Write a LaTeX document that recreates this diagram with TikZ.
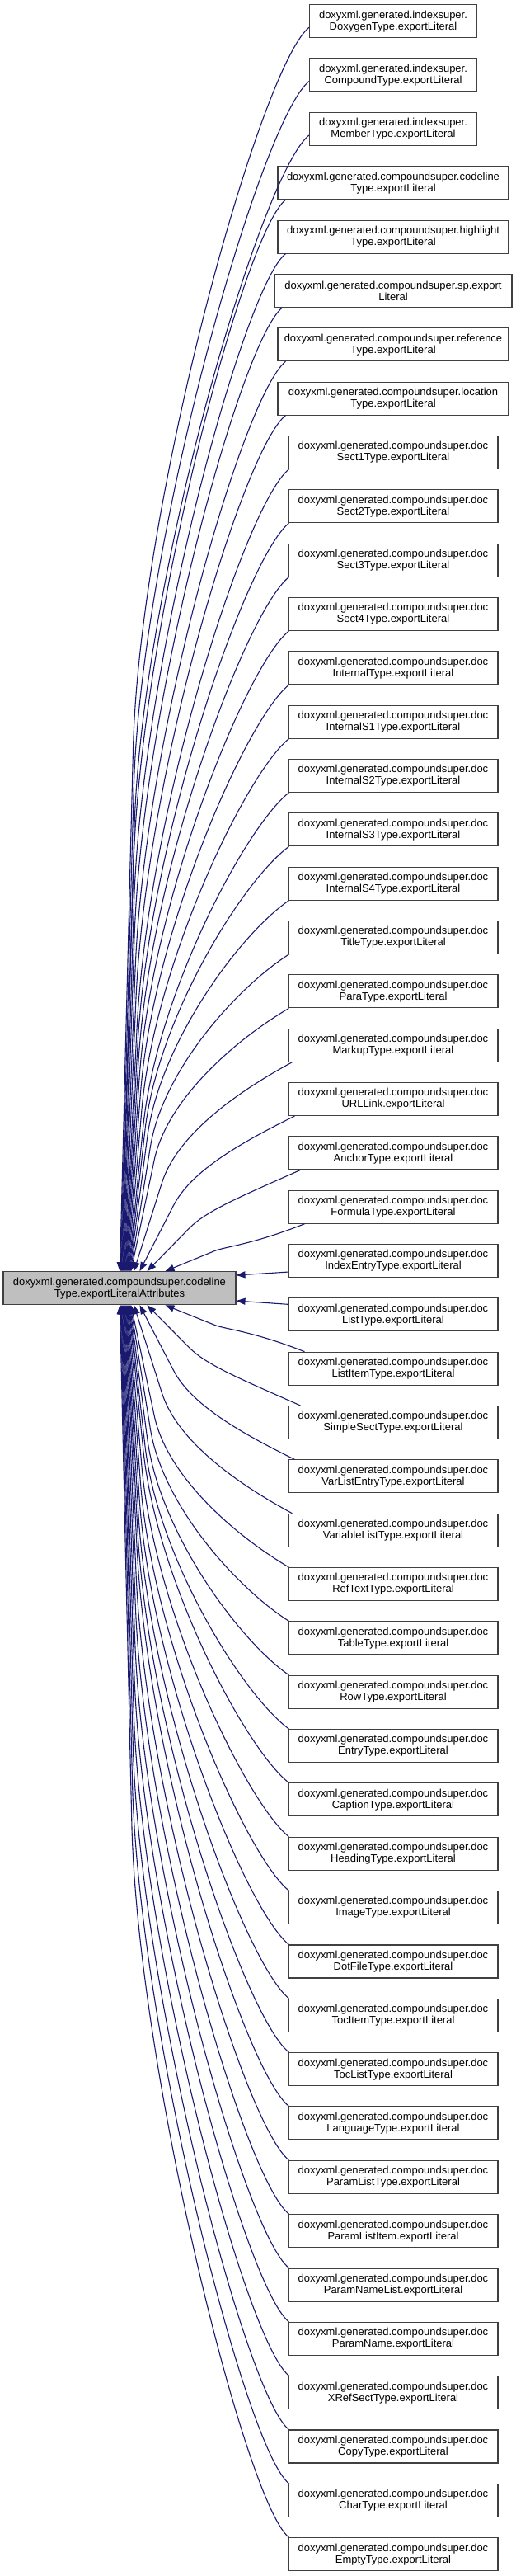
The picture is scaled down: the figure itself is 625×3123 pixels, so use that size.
\documentclass[tikz,border=0pt]{standalone}
\usepackage{fontspec}
\setmainfont{Liberation Sans}
\usetikzlibrary{arrows.meta,calc}
\definecolor{edgecol}{HTML}{191970}
\definecolor{boxline}{HTML}{404040}
\definecolor{boxfill}{HTML}{BFBFBF}
\tikzset{
  rnode/.style={draw=boxline, line width=1.1pt, fill=white, minimum height=40pt, inner sep=0pt, align=center},
  lnode/.style={rnode, fill=boxfill},
  edgeline/.style={draw=edgecol, line width=1.1pt, -{Triangle[length=11pt,width=8pt]}},
}
% parameters of one connector, from its rank m (0 = farthest) and its vertical span
\newcommand{\edgeparams}[3]{% #1 = m, #2 = start x, #3 = vertical span
  \pgfmathsetmacro\Ex{#1<19 ? 146+0.75*#1 : (#1==19 ? 163 : (#1==20 ? 170 : (#1==21 ? 179 : 201)))}
  \pgfmathsetmacro\Dv{#3}
  \pgfmathsetmacro\Dh{#2-\Ex}
  \pgfmathsetmacro\Fr{min(1,\Dv/600)}
  \pgfmathsetmacro\Wt{0.07+0.38*exp(-\Dv/200)}
  \pgfmathsetmacro\Rr{\Wt*\Dh}
  \pgfmathsetmacro\Hf{#1<=14 ? 0.58+0.12*min(1,#1/8) : max(0.58,0.7-0.03*(#1-14))}
  \pgfmathsetmacro\Hh{\Hf*\Dv}
  \pgfmathsetmacro\Rest{\Dv-\Hh}
  \pgfmathsetmacro\Len{100*sqrt((\Rr/100)^2+(\Rest/100)^2)}
  \pgfmathsetmacro\Nu{(0.34+0.06*min(1,#1/8))*\Hh}
  \pgfmathsetmacro\Cx{\Rr/\Len*\Nu}
  \pgfmathsetmacro\Cy{\Rest/\Len*\Nu}
  \pgfmathsetmacro\Sl{0.35+0.45*\Fr}
  \pgfmathsetmacro\Lam{min((0.26+0.2*(1-\Fr))*\Dh,0.75*\Hh/\Sl)}
  \pgfmathsetmacro\Lamy{\Sl*\Lam}
}
\begin{document}
\begin{tikzpicture}[x=1pt,y=-1pt,font=\fontsize{13}{14}\selectfont]
\useasboundingbox (0,0) rectangle (625,3123);
% left node
\node[lnode, minimum width=282pt] (L) at (145,1561.7) {doxyxml.generated.compoundsuper.codeline\\Type.exportLiteralAttributes};
% right nodes
\foreach \i/\w/\t in {
  0/203/{doxyxml.generated.indexsuper.\\DoxygenType.exportLiteral},
  1/203/{doxyxml.generated.indexsuper.\\CompoundType.exportLiteral},
  2/203/{doxyxml.generated.indexsuper.\\MemberType.exportLiteral},
  3/280/{doxyxml.generated.compoundsuper.codeline\\Type.exportLiteral},
  4/280/{doxyxml.generated.compoundsuper.highlight\\Type.exportLiteral},
  5/288/{doxyxml.generated.compoundsuper.sp.export\\Literal},
  6/280/{doxyxml.generated.compoundsuper.reference\\Type.exportLiteral},
  7/280/{doxyxml.generated.compoundsuper.location\\Type.exportLiteral}} {
  \node[rnode, minimum width=\w pt] (n\i) at (477,{25.7+65.34*\i}) {\t};
}
\foreach \i/\n in {8/Sect1Type,9/Sect2Type,10/Sect3Type,11/Sect4Type,12/InternalType,
  13/InternalS1Type,14/InternalS2Type,15/InternalS3Type,16/InternalS4Type,17/TitleType,
  18/ParaType,19/MarkupType,20/URLLink,21/AnchorType,22/FormulaType,23/IndexEntryType,
  24/ListType,25/ListItemType,26/SimpleSectType,27/VarListEntryType,28/VariableListType,
  29/RefTextType,30/TableType,31/RowType,32/EntryType,33/CaptionType,34/HeadingType,
  35/ImageType,36/DotFileType,37/TocItemType,38/TocListType,39/LanguageType,
  40/ParamListType,41/ParamListItem,42/ParamNameList,43/ParamName,44/XRefSectType,
  45/CopyType,46/CharType,47/EmptyType} {
  \node[rnode, minimum width=254pt] (n\i) at (477,{25.7+65.34*\i}) {doxyxml.generated.compoundsuper.doc\\\n.exportLiteral};
}
% edges from nodes above
\foreach \k in {0,...,22} {
  \pgfmathsetmacro\Lx{\k<3 ? 375 : (\k==5 ? 333 : (\k<8 ? 337 : 350))}
  \pgfmathsetmacro\Ox{\k<3 ? 0 : (\k<8 ? 10 : (\k<19 ? 1 : (\k==19 ? 5 : (\k==20 ? 8 : (\k==21 ? 15 : 20)))))}
  \pgfmathsetmacro\Oy{\k<3 ? -13 : 0}
  \pgfmathsetmacro\Sy{25.7+65.34*\k+20+\Oy}
  \edgeparams{\k}{\Lx+\Ox}{1541.7-\Sy}
  \draw[edgeline] ($(n\k.south west)+(\Ox,\Oy)$) .. controls +(-\Lam,\Lamy) and +(\Cx,-\Cy) .. ($(L.north west)+(\Ex-4+\Rr,-\Rest)$) -- ($(L.north west)+(\Ex-4,0)$);
}
% edges from nodes below
\foreach \j in {25,...,47} {
  \pgfmathsetmacro\M{int(47-\j)}
  \pgfmathsetmacro\Ox{\M<19 ? 1 : (\M==19 ? 5 : (\M==20 ? 8 : (\M==21 ? 15 : 20)))}
  \pgfmathsetmacro\Sy{25.7+65.34*\j-20}
  \edgeparams{\M}{350+\Ox}{\Sy-1581.7}
  \draw[edgeline] ($(n\j.north west)+(\Ox,0)$) .. controls +(-\Lam,-\Lamy) and +(\Cx,\Cy) .. ($(L.south west)+(\Ex-4+\Rr,\Rest)$) -- ($(L.south west)+(\Ex-4,0)$);
}
% side edges
\draw[edgeline] ($(n23.south west)+(0,-7)$) -- ($(L.east)+(0,-15.7)$);
\draw[edgeline] ($(n24.north west)+(0,8)$) -- ($(L.east)+(0,15.3)$);
\end{tikzpicture}
\end{document}
